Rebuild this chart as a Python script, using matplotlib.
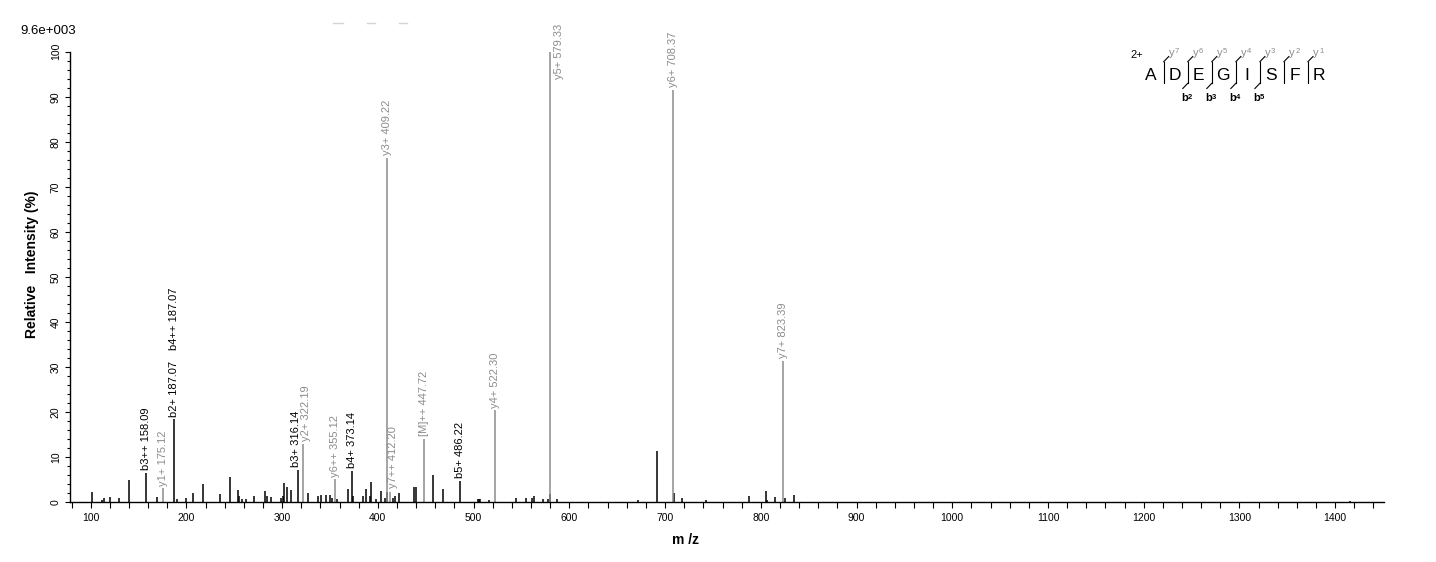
import matplotlib
matplotlib.use("Agg")
import matplotlib.pyplot as plt
from matplotlib.ticker import MultipleLocator
from matplotlib.lines import Line2D

plt.rcParams['font.family'] = ['Liberation Sans', 'DejaVu Sans']

# ---------------- data ----------------
# unlabeled peaks (m/z, relative intensity %)
peak_mz = [101.7, 111.5, 114.3, 119.9, 129.6, 140.4, 169.3, 190.6, 200.0, 207.3,
           217.8, 235.2, 246.0, 254.0, 255.2, 257.8, 262.7, 270.7, 282.2, 284.3,
           288.4, 299.2, 301.0, 302.0, 305.2, 309.3, 327.0, 337.5, 341.0, 345.5,
           350.4, 352.5, 357.0, 369.2, 373.9, 384.1, 387.3, 391.8, 392.6, 398.0,
           402.9, 407.8, 409.8, 415.4, 417.5, 422.3, 438.0, 440.1, 457.9, 468.3,
           504.2, 505.6, 507.0, 516.4, 544.8, 555.2, 561.3, 562.6, 572.9, 577.4,
           580.2, 586.7, 672.0, 691.2, 709.5, 718.2, 743.0, 787.6, 805.4, 806.4,
           814.7, 824.9, 834.3, 1415.0]
peak_int = [2.3, 0.6, 0.9, 1.2, 0.9, 5.0, 1.2, 0.75, 1.0, 2.0,
            4.1, 1.9, 5.6, 2.8, 1.3, 0.75, 0.75, 1.4, 2.5, 1.4,
            1.2, 1.0, 1.4, 4.3, 3.3, 2.7, 2.1, 1.3, 1.7, 1.7,
            1.7, 1.0, 0.8, 3.0, 1.3, 1.5, 3.0, 1.5, 4.6, 0.8,
            2.5, 1.0, 2.2, 1.0, 1.3, 2.0, 3.5, 3.3, 6.1, 3.0,
            0.8, 0.8, 0.8, 0.6, 1.0, 1.0, 1.0, 1.3, 0.8, 0.8,
            1.9, 0.8, 0.5, 11.4, 2.1, 1.0, 0.5, 1.4, 2.6, 0.6,
            1.2, 1.0, 1.6, 0.3]

# annotated fragment peaks
ann_mz = [158.09, 175.12, 187.07, 316.14, 322.19, 355.12, 373.14, 409.22,
          412.20, 447.72, 486.22, 522.30, 579.33, 708.37, 823.39]
ann_int = [6.6, 3.1, 18.4, 7.2, 13.0, 5.1, 7.0, 76.4,
           2.3, 14.1, 4.8, 20.4, 100.0, 91.5, 31.4]
ann_label = ['b3++ 158.09', 'y1+ 175.12', 'b2+ 187.07', 'b3+ 316.14', 'y2+ 322.19',
             'y6++ 355.12', 'b4+ 373.14', 'y3+ 409.22', 'y7++ 412.20', '[M]++ 447.72',
             'b5+ 486.22', 'y4+ 522.30', 'y5+ 579.33', 'y6+ 708.37', 'y7+ 823.39']
ann_kind = ['b', 'y', 'b', 'b', 'y', 'y', 'b', 'y', 'y', 'y', 'b', 'y', 'y', 'y', 'y']
extra_label = {187.07: 'b4++ 187.07'}

sequence = "ADEGISFR"
y_ions = [7, 6, 5, 4, 3, 2, 1]
b_ions = [None, 2, 3, 4, 5, None, None]
charge = "2+"
scale_text = "9.6e+003"

x_ticks_major = 100
x_ticks_minor = 20

# ---------------- style ----------------
W, H = 1436, 562
BLACK = '#000000'
GRAY = '#8c8c8c'
col = {'b': BLACK, 'y': GRAY}
label_offsets = {579.33: (7, -20), 412.20: (2.5, 3), 316.14: (-1.5, 2), 322.19: (2.2, 2)}

fig = plt.figure(figsize=(W / 100, H / 100), dpi=100)
ax = fig.add_axes([70 / W, (H - 502.3) / H, (1384 - 70) / W, (502.3 - 51.7) / H])
ax.set_xlim(78.4, 1451)
ax.set_ylim(0, 100)

ax.vlines(peak_mz, 0, peak_int, colors=BLACK, linewidth=1.1, clip_on=False)
ax.vlines(ann_mz, 0, ann_int, colors=[col[k] for k in ann_kind], linewidth=1.1, clip_on=False)

for m, v, lab, k in zip(ann_mz, ann_int, ann_label, ann_kind):
    off = label_offsets.get(m, (0, 2))
    a = ax.annotate(lab, xy=(m, v), xytext=off, textcoords='offset points',
                    rotation=90, ha='center', va='bottom', fontsize=8,
                    color=col[k], annotation_clip=False)
    if m in extra_label:
        ax.annotate(extra_label[m], xy=(0.5, 1.0), xycoords=a, xytext=(0, 8),
                    textcoords='offset points', rotation=90, ha='center', va='bottom',
                    fontsize=8, color=col[k], annotation_clip=False)

for s in ['top', 'right']:
    ax.spines[s].set_visible(False)
for s in ['left', 'bottom']:
    ax.spines[s].set_linewidth(1.0)

ax.xaxis.set_major_locator(MultipleLocator(x_ticks_major))
ax.xaxis.set_minor_locator(MultipleLocator(x_ticks_minor))
ax.yaxis.set_major_locator(MultipleLocator(10))
ax.yaxis.set_minor_locator(MultipleLocator(2))
ax.tick_params(axis='x', which='both', direction='out', length=4.3, width=0.8,
               labelsize=7.5, pad=3.2)
ax.tick_params(axis='y', which='major', direction='out', length=3.8, width=0.8,
               labelsize=7.5, pad=2.8)
ax.tick_params(axis='y', which='minor', direction='out', length=2.3, width=0.8)
for t in ax.get_yticklabels():
    t.set_rotation(90)
    t.set_va('center')
    t.set_ha('right')

def fx(x):
    return x / W

def fy(y):
    return 1 - y / H

fig.text(fx(31.7), fy(264), "Relative   Intensity (%)", rotation=90, ha='center',
         va='center', fontsize=10, fontweight='bold')
fig.text(fx(685), fy(540), "m /z", ha='center', va='center', fontsize=10, fontweight='bold')
fig.text(fx(20.5), fy(31), scale_text, ha='left', va='center', fontsize=9.5)

# faint dashes near the top
for x0, x1 in [(333, 343), (367, 375), (399, 407)]:
    fig.add_artist(Line2D([fx(x0), fx(x1)], [fy(23), fy(23)], color='#d4d4d4', lw=1))

# ---------------- peptide sequence graphic ----------------
lx0, dx, ly = 1150.7, 24.04, 75
fig.text(fx(1137), fy(55), charge, ha='center', va='center', fontsize=8)
for i, aa in enumerate(sequence):
    fig.text(fx(lx0 + i * dx), fy(ly), aa, ha='center', va='center', fontsize=12.5)
for i in range(len(sequence) - 1):
    sx = lx0 + (i + 1) * dx - 11
    fig.add_artist(Line2D([fx(sx), fx(sx)], [fy(61.7), fy(83.3)], color=BLACK, lw=0.8))
    fig.add_artist(Line2D([fx(sx), fx(sx + 5)], [fy(61.7), fy(56.5)], color=BLACK, lw=0.8))
    fig.text(fx(sx + 8), fy(53.5), "y", ha='center', va='center', fontsize=8, color=GRAY)
    fig.text(fx(sx + 13.3), fy(51.5), str(y_ions[i]), ha='center', va='center',
             fontsize=5.5, color=GRAY)
    if b_ions[i] is not None:
        fig.add_artist(Line2D([fx(sx), fx(sx - 5)], [fy(83.3), fy(88.5)], color=BLACK, lw=0.8))
        fig.text(fx(sx - 3.5), fy(98.3), "b", ha='center', va='center', fontsize=8,
                 fontweight='bold')
        fig.text(fx(sx + 1.8), fy(97.5), str(b_ions[i]), ha='center', va='center',
                 fontsize=5.5, fontweight='bold')

fig.savefig("out.png", dpi=100)
